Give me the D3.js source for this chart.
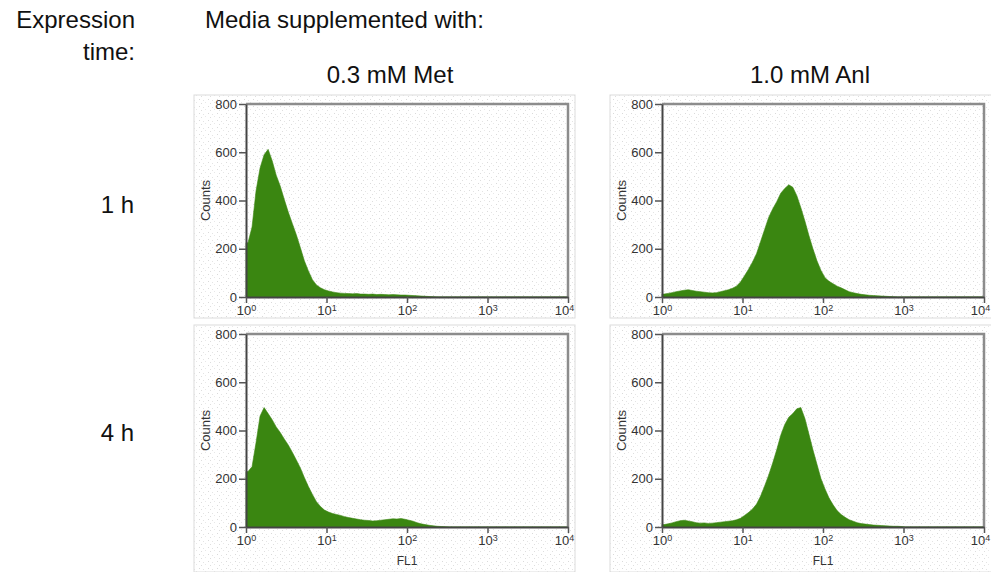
<!DOCTYPE html>
<html>
<head>
<meta charset="utf-8">
<script src="https://cdn.jsdelivr.net/npm/d3@7"></script>
<style>
  body { margin: 0; background: #fff; }
  text { font-family: "Liberation Sans", Arial, sans-serif; }
</style>
</head>
<body>
<div class="chart"></div>
<script>
// histogram bins are 0.05 decade wide, starting at 10^0
var binStep = 0.05;
var binStarts = d3.range(0, 4, binStep);

// counts per bin
var met1h = [225, 290, 440, 535, 590, 612, 565, 505, 460, 405,
  352, 305, 258, 205, 150, 108, 72, 50, 38, 30,
  25, 21, 18, 16, 15, 14, 13, 14, 12, 12,
  11, 12, 10, 11, 10, 9, 10, 9, 8, 8,
  7, 6, 5, 4, 3, 2, 1, 0, 0, 0,
  0, 0, 0, 0, 0, 0, 0, 0, 0, 0,
  0, 0, 0, 0, 0, 0, 0, 0, 0, 0,
  0, 0, 0, 0, 0, 0, 0, 0, 0, 0];

var anl1h = [12, 15, 18, 22, 25, 28, 30, 27, 24, 22,
  20, 18, 17, 18, 22, 26, 30, 36, 45, 62,
  88, 115, 145, 180, 230, 280, 330, 365, 395, 430,
  450, 465, 455, 420, 370, 315, 255, 200, 150, 110,
  80, 65, 55, 45, 38, 30, 22, 18, 14, 11,
  9, 7, 6, 5, 4, 3, 2, 1, 0, 0,
  0, 0, 0, 0, 0, 0, 0, 0, 0, 0,
  0, 0, 0, 0, 0, 0, 0, 0, 0, 0];

var met4h = [230, 250, 350, 460, 495, 470, 445, 415, 392, 365,
  340, 310, 278, 245, 205, 168, 135, 105, 85, 70,
  62, 56, 52, 48, 43, 39, 36, 33, 30, 28,
  27, 25, 26, 28, 30, 32, 34, 33, 35, 32,
  28, 24, 18, 13, 10, 7, 5, 3, 2, 1,
  0, 0, 0, 0, 0, 0, 0, 0, 0, 0,
  0, 0, 0, 0, 0, 0, 0, 0, 0, 0,
  0, 0, 0, 0, 0, 0, 0, 0, 0, 0];

var anl4h = [10, 13, 17, 22, 26, 28, 25, 22, 18, 16,
  17, 15, 16, 18, 20, 22, 24, 26, 30, 36,
  48, 60, 75, 95, 128, 170, 215, 265, 320, 380,
  425, 455, 470, 490, 495, 450, 385, 320, 260, 200,
  158, 120, 92, 68, 52, 40, 30, 24, 18, 14,
  12, 10, 8, 7, 6, 5, 4, 3, 3, 2,
  0, 0, 0, 0, 0, 0, 0, 0, 0, 0,
  0, 0, 0, 0, 0, 0, 0, 0, 0, 0];

var yTicks = [0, 200, 400, 600, 800];
var xTicks = [1, 10, 100, 1000, 10000];
var columnLabels = ["0.3 mM Met", "1.0 mM Anl"];
var rowLabels = ["1 h", "4 h"];

var svgWidth = 991;
var svgHeight = 572;

var svg = d3.select(".chart")
  .append("svg")
  .attr("width", svgWidth)
  .attr("height", svgHeight);

// faint stipple like the scanned cytometer output
var pattern = svg.append("defs").append("pattern")
  .attr("id", "stipple")
  .attr("width", 9)
  .attr("height", 7)
  .attr("patternUnits", "userSpaceOnUse");
pattern.append("rect").attr("x", 1).attr("y", 1).attr("width", 1).attr("height", 1).attr("fill", "#dadada");
pattern.append("rect").attr("x", 5).attr("y", 2).attr("width", 1).attr("height", 1).attr("fill", "#e4e4e4");
pattern.append("rect").attr("x", 3).attr("y", 5).attr("width", 1).attr("height", 1).attr("fill", "#dedede");
pattern.append("rect").attr("x", 7).attr("y", 4).attr("width", 1).attr("height", 1).attr("fill", "#e8e8e8");

// panels: plot area and outer box for each
var panels = [
  { data: met1h, left: 246, top: 104, box: [194, 95, 381, 223], fl1: false },
  { data: anl1h, left: 662, top: 104, box: [610, 95, 385, 223], fl1: false },
  { data: met4h, left: 246, top: 334, box: [194, 325, 381, 247], fl1: true },
  { data: anl4h, left: 662, top: 334, box: [610, 325, 385, 247], fl1: true }
];

var plotWidth = 322;
var plotHeight = 193;

var xScale = d3.scaleLog()
  .domain([1, 10000])
  .range([0, plotWidth]);

var yScale = d3.scaleLinear()
  .domain([0, 800])
  .range([plotHeight, 0]);

var area = d3.area()
  .x(d => xScale(Math.pow(10, d[0])))
  .y0(plotHeight)
  .y1(d => yScale(d[1]));

panels.forEach(function(p) {
  // outer box with stipple
  svg.append("rect")
    .attr("x", p.box[0])
    .attr("y", p.box[1])
    .attr("width", p.box[2])
    .attr("height", p.box[3])
    .attr("fill", "url(#stipple)")
    .attr("stroke", "#dcdcdc")
    .attr("stroke-width", 1);

  var g = svg.append("g")
    .attr("transform", `translate(${p.left}, ${p.top})`);

  // bin centres, with the first bin held up to the left edge
  var points = [[0, p.data[0]]];
  binStarts.forEach((b, i) => points.push([b + binStep / 2, p.data[i]]));
  points.push([4, 0]);

  g.append("path")
    .datum(points)
    .attr("d", area)
    .attr("fill", "#3a8611")
    .attr("stroke", "#3a8611")
    .attr("stroke-width", 0.6);

  // top and right frame
  g.append("path")
    .attr("d", `M0,0H${plotWidth}V${plotHeight}`)
    .attr("fill", "none")
    .attr("stroke", "#8c8c8c")
    .attr("stroke-width", 2.5);

  var leftAxis = d3.axisLeft(yScale)
    .tickValues(yTicks)
    .tickSize(7)
    .tickPadding(2)
    .tickSizeOuter(0);

  var yAxis = g.append("g").call(leftAxis);
  yAxis.select(".domain").attr("stroke", "#444").attr("stroke-width", 2);
  yAxis.selectAll(".tick line").attr("stroke", "#555").attr("stroke-width", 1.5);
  yAxis.selectAll(".tick text")
    .attr("fill", "#333")
    .style("font-size", "13px")
    .style("font-family", "'Liberation Sans', Arial, sans-serif");

  var bottomAxis = d3.axisBottom(xScale)
    .tickValues(xTicks)
    .tickSize(6)
    .tickPadding(3)
    .tickSizeOuter(0);

  var xAxis = g.append("g")
    .attr("transform", `translate(0, ${plotHeight})`)
    .call(bottomAxis);
  xAxis.select(".domain").attr("stroke", "#444").attr("stroke-width", 2);
  xAxis.selectAll(".tick line").attr("stroke", "#555").attr("stroke-width", 1.5);

  // powers of ten with superscripts
  var tickText = xAxis.selectAll(".tick text")
    .text(null)
    .attr("fill", "#333")
    .attr("dx", d => d === 10000 ? -4 : 0)
    .style("font-size", "13px")
    .style("font-family", "'Liberation Sans', Arial, sans-serif");
  tickText.append("tspan").text("10");
  tickText.append("tspan")
    .attr("dy", "-0.45em")
    .style("font-size", "9px")
    .text(d => Math.round(Math.log10(d)));

  g.append("text")
    .attr("transform", "rotate(-90)")
    .attr("x", -plotHeight / 2)
    .attr("y", -36)
    .attr("text-anchor", "middle")
    .attr("fill", "#333")
    .style("font-size", "13px")
    .text("Counts");

  if (p.fl1) {
    g.append("text")
      .attr("x", plotWidth / 2)
      .attr("y", plotHeight + 38)
      .attr("text-anchor", "middle")
      .attr("fill", "#333")
      .style("font-size", "12px")
      .text("FL1");
  }
});

// header and row labels
var header = svg.append("g")
  .style("font-size", "24px")
  .attr("fill", "#111");

header.append("text").attr("x", 135).attr("y", 28).attr("text-anchor", "end").text("Expression");
header.append("text").attr("x", 135).attr("y", 60).attr("text-anchor", "end").text("time:");
header.append("text").attr("x", 205).attr("y", 28).text("Media supplemented with:");

header.selectAll(".col")
  .data(columnLabels)
  .enter()
  .append("text")
  .attr("x", (d, i) => i === 0 ? 390 : 810)
  .attr("y", 83)
  .attr("text-anchor", "middle")
  .text(d => d);

header.selectAll(".row")
  .data(rowLabels)
  .enter()
  .append("text")
  .attr("x", 134)
  .attr("y", (d, i) => i === 0 ? 213 : 441)
  .attr("text-anchor", "end")
  .text(d => d);
</script>
</body>
</html>
